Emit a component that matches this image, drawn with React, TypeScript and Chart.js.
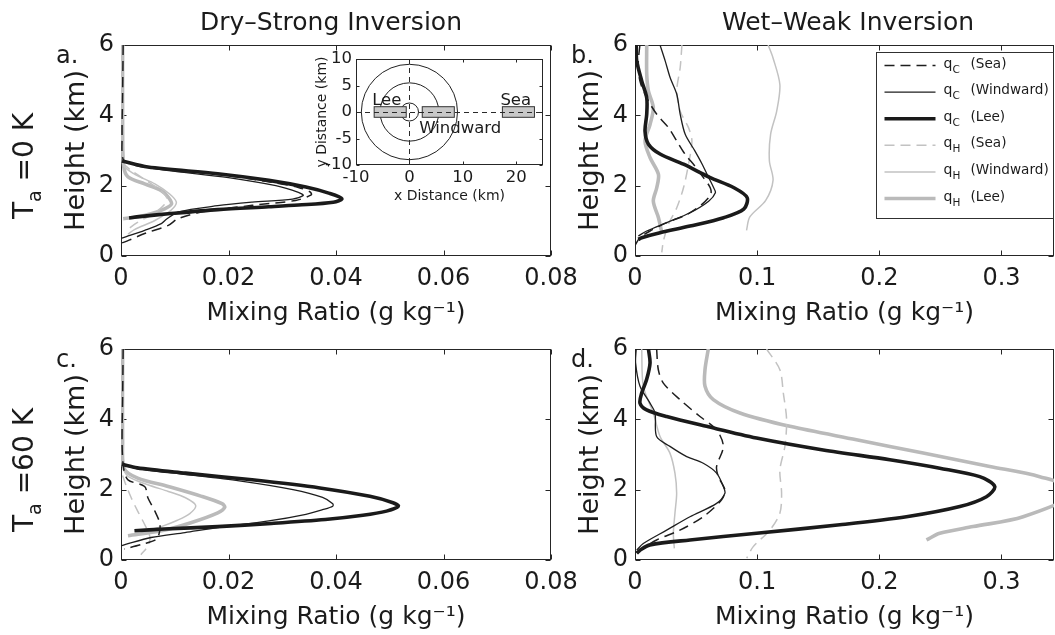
import React, { useEffect, useRef } from 'react';
import { Chart, registerables } from 'chart.js';

Chart.register(...registerables);

const PAGE_W = 1055;
const PAGE_H = 635;
const FONT = '"DejaVu Sans", "Noto Sans", sans-serif';
const INK = '#1b1b1b';
const FRAME = '#262626';

// ---------- axis ticks ----------
const DRY_X_MAX = 0.08;
const WET_X_MAX = 0.343;
const HEIGHT_MAX = 6;
const DRY_X_TICKS = [0, 0.02, 0.04, 0.06, 0.08];
const DRY_X_LABELS = ['0', '0.02', '0.04', '0.06', '0.08'];
const WET_X_TICKS = [0, 0.1, 0.2, 0.3];
const WET_X_LABELS = ['0', '0.1', '0.2', '0.3'];
const HEIGHT_TICKS = [0, 2, 4, 6];
const HEIGHT_LABELS = ['0', '2', '4', '6'];
const MAP_X_TICKS = [-10, 0, 10, 20];
const MAP_X_LABELS = ['-10', '0', '10', '20'];
const MAP_Y_TICKS = [-10, -5, 0, 5, 10];
const MAP_Y_LABELS = ['-10', '-5', '0', '5', '10'];

// ---------- legend text ----------
const SERIES_SYMBOL = ['q', 'q', 'q', 'q', 'q', 'q'];
const SERIES_PHASE = ['C', 'C', 'C', 'H', 'H', 'H'];
const SERIES_SITE = ['(Sea)', '(Windward)', '(Lee)', '(Sea)', '(Windward)', '(Lee)'];

// ---------- inset map ----------
const RING_RADII_KM = [1.7, 5.5, 9];
const SITE_NAMES = ['Lee', 'Windward', 'Sea'];
const SITE_X_START_KM = [-6.6, 2.4, 17.4];
const SITE_X_END_KM = [-0.6, 8.4, 23.4];
const SITE_HALF_WIDTH_KM = 1;
const SITE_LABEL_SIDE = ['above', 'below', 'above'];

// ---------- profiles: [mixing ratio (g/kg), height (km)] ----------
type Pair = [number, number];

// a. Dry-Strong, Ta = 0 K
const A_QC_SEA: Pair[] = [[0.0004, 6], [0.0003, 4.6], [0.0002, 3.4], [0.0005, 2.72], [0.006, 2.5], [0.019, 2.3], [0.028, 2.1], [0.033, 1.95], [0.0352, 1.82], [0.0354, 1.74], [0.0325, 1.58], [0.0244, 1.44], [0.015, 1.25], [0.0106, 1.06], [0.0088, 0.87], [0.0044, 0.64], [0.0015, 0.45], [0, 0.36]];
const A_QC_WIND: Pair[] = [[0.0002, 2.7], [0.0069, 2.47], [0.02, 2.23], [0.0288, 2.0], [0.033, 1.81], [0.0339, 1.72], [0.0319, 1.62], [0.0244, 1.53], [0.018, 1.43], [0.0106, 1.25], [0.0085, 1.05], [0.0075, 0.92], [0.0044, 0.73], [0.001, 0.55], [0, 0.5]];
const A_QC_LEE: Pair[] = [[0.0002, 2.7], [0.005, 2.53], [0.018, 2.34], [0.0275, 2.15], [0.0344, 1.96], [0.0388, 1.78], [0.0411, 1.63], [0.0395, 1.53], [0.033, 1.45], [0.0275, 1.4], [0.018, 1.32], [0.0088, 1.2], [0.0035, 1.12], [0.0015, 1.08]];
const A_QH_SEA: Pair[] = [[0.0002, 2.65], [0.002, 2.42], [0.005, 2.12], [0.0075, 1.85], [0.0085, 1.65], [0.008, 1.45], [0.006, 1.2], [0.003, 0.95], [0.0012, 0.75]];
const A_QH_WIND: Pair[] = [[0.0002, 6], [0.0002, 3.6], [0.0004, 2.6], [0.0025, 2.33], [0.0063, 2.05], [0.009, 1.77], [0.0103, 1.53], [0.0093, 1.3], [0.0063, 1.01], [0.0025, 0.75], [0.0013, 0.62]];
const A_QH_LEE: Pair[] = [[0.0003, 6], [0.0003, 3.6], [0.0005, 2.55], [0.0013, 2.25], [0.0044, 2.05], [0.0075, 1.86], [0.0088, 1.67], [0.0094, 1.48], [0.0081, 1.34], [0.0056, 1.2], [0.0025, 1.1], [0.0004, 1.06]];

// b. Wet-Weak, Ta = 0 K
const B_QC_SEA: Pair[] = [[0.004, 6], [0.0027, 5.5], [0.004, 4.98], [0.0096, 4.5], [0.0178, 4.03], [0.0274, 3.65], [0.0342, 3.27], [0.0411, 2.89], [0.049, 2.56], [0.056, 2.23], [0.0616, 1.94], [0.062, 1.75], [0.0548, 1.47], [0.0425, 1.18], [0.026, 0.95], [0.0123, 0.71], [0.004, 0.52], [0, 0.3]];
const B_QC_WIND: Pair[] = [[0.0205, 6], [0.0247, 5.55], [0.0288, 5.07], [0.0342, 4.6], [0.037, 4.03], [0.0411, 3.46], [0.049, 2.99], [0.055, 2.61], [0.0603, 2.23], [0.0644, 1.94], [0.0658, 1.8], [0.0603, 1.56], [0.045, 1.23], [0.026, 0.95], [0.0096, 0.71], [0.0027, 0.57]];
const B_QC_LEE: Pair[] = [[0.001, 6], [0.0014, 5.55], [0.0055, 4.98], [0.0096, 4.5], [0.0096, 4.03], [0.0082, 3.55], [0.011, 3.18], [0.0205, 2.9], [0.0397, 2.61], [0.0616, 2.23], [0.081, 1.94], [0.0918, 1.66], [0.089, 1.33], [0.0726, 1.09], [0.045, 0.85], [0.0205, 0.66], [0.0055, 0.52], [0.0027, 0.47]];
const B_QH_SEA: Pair[] = [[0.0384, 6], [0.037, 5.36], [0.0342, 4.69], [0.037, 4.12], [0.0438, 3.65], [0.0466, 3.27], [0.0438, 2.61], [0.0397, 1.94], [0.0342, 1.37], [0.0274, 0.9], [0.0233, 0.43], [0.0219, 0.1]];
const B_QH_WIND: Pair[] = [[0.109, 6], [0.113, 5.63], [0.1186, 4.87], [0.116, 4.12], [0.111, 3.46], [0.11, 2.71], [0.113, 2.15], [0.107, 1.58], [0.094, 1.11], [0.0913, 0.73]];
const B_QH_LEE: Pair[] = [[0.0096, 6], [0.0096, 5.17], [0.011, 4.69], [0.015, 4.22], [0.0123, 3.74], [0.0082, 3.27], [0.0123, 2.8], [0.0192, 2.32], [0.0178, 1.94], [0.015, 1.56], [0.0192, 1.09], [0.022, 0.66]];

// c. Dry-Strong, Ta = 60 K
const C_QC_SEA: Pair[] = [[0.0004, 6], [0.0003, 4.6], [0.0002, 3.3], [0.0005, 2.6], [0.0013, 2.28], [0.0044, 2.09], [0.005, 1.77], [0.0063, 1.39], [0.0072, 1.06], [0.0072, 0.83], [0.0066, 0.59], [0.004, 0.45], [0.0006, 0.31]];
const C_QC_WIND: Pair[] = [[0.0002, 2.7], [0.003, 2.6], [0.011, 2.45], [0.022, 2.25], [0.032, 2.0], [0.0375, 1.78], [0.0394, 1.6], [0.0394, 1.53], [0.0375, 1.43], [0.0344, 1.3], [0.0275, 1.11], [0.018, 0.92], [0.0119, 0.78], [0.0056, 0.64], [0.001, 0.45], [0, 0.4]];
const C_QC_LEE: Pair[] = [[0.0002, 2.72], [0.003, 2.62], [0.012, 2.47], [0.0244, 2.28], [0.037, 2.05], [0.0463, 1.81], [0.0506, 1.63], [0.0516, 1.53], [0.0494, 1.39], [0.045, 1.27], [0.038, 1.15], [0.028, 1.04], [0.018, 0.95], [0.008, 0.88], [0.0025, 0.83]];
const C_QH_SEA: Pair[] = [[0.0003, 2.4], [0.0009, 2.14], [0.0019, 1.77], [0.0031, 1.39], [0.0044, 1.01], [0.0054, 0.64], [0.005, 0.4], [0.0037, 0.15]];
const C_QH_WIND: Pair[] = [[0.0003, 2.6], [0.0013, 2.38], [0.005, 2.14], [0.0088, 1.95], [0.012, 1.77], [0.0139, 1.55], [0.0128, 1.32], [0.0105, 1.13], [0.0075, 0.95], [0.005, 0.85]];
const C_QH_LEE: Pair[] = [[0.0003, 6], [0.0003, 3.4], [0.0006, 2.6], [0.0031, 2.33], [0.0088, 2.09], [0.015, 1.81], [0.0188, 1.6], [0.0193, 1.5], [0.018, 1.34], [0.013, 1.06], [0.0075, 0.83], [0.0013, 0.69]];

// d. Wet-Weak, Ta = 60 K
const D_QC_SEA: Pair[] = [[0.0177, 6], [0.0191, 5.41], [0.0232, 5.03], [0.0368, 4.56], [0.0532, 4.08], [0.0668, 3.7], [0.0723, 3.23], [0.0668, 2.66], [0.0682, 2.37], [0.0736, 1.99], [0.0709, 1.71], [0.0559, 1.23], [0.0368, 0.85], [0.0177, 0.57], [0.0041, 0.28], [0.0014, 0.19]];
const D_QC_WIND: Pair[] = [[0.001, 6], [0.0005, 5.6], [0.0041, 4.94], [0.0123, 4.46], [0.0164, 4.18], [0.0177, 3.51], [0.0286, 3.23], [0.0423, 2.94], [0.0559, 2.75], [0.0668, 2.47], [0.0723, 2.09], [0.0736, 1.9], [0.0668, 1.61], [0.045, 1.23], [0.0259, 0.85], [0.0068, 0.47], [0.0014, 0.28]];
const D_QC_LEE: Pair[] = [[0.011, 6], [0.0123, 5.6], [0.0095, 5.13], [0.0055, 4.75], [0.0041, 4.46], [0.0095, 4.27], [0.0259, 4.08], [0.0586, 3.8], [0.0995, 3.47], [0.154, 3.13], [0.2086, 2.85], [0.2495, 2.61], [0.2822, 2.37], [0.2945, 2.09], [0.2877, 1.8], [0.2659, 1.52], [0.2222, 1.23], [0.1677, 1.0], [0.0995, 0.76], [0.045, 0.57], [0.0123, 0.43], [0.0041, 0.28], [0.0014, 0.19]];
const D_QH_SEA: Pair[] = [[0.1077, 6], [0.1186, 5.41], [0.1214, 4.75], [0.1241, 3.99], [0.1227, 3.23], [0.1186, 2.56], [0.12, 1.9], [0.1186, 1.33], [0.1104, 0.85], [0.0968, 0.38], [0.0914, 0.05]];
const D_QH_WIND: Pair[] = [[0.0055, 6], [0.0068, 4.94], [0.015, 4.18], [0.0205, 3.51], [0.0286, 3.04], [0.0327, 2.47], [0.0341, 1.9], [0.0327, 1.33], [0.0314, 0.76], [0.0322, 0.33]];
const D_QH_LEE: Pair[] = [[0.06, 6], [0.0573, 5.41], [0.0573, 4.94], [0.0641, 4.56], [0.0859, 4.18], [0.1268, 3.8], [0.1813, 3.42], [0.2359, 3.04], [0.2904, 2.66], [0.3313, 2.37], [0.362, 1.95], [0.3177, 1.23], [0.2768, 0.95], [0.2495, 0.76], [0.2386, 0.57]];

// ---------- styles ----------
const SERIES_STYLE = [
  { color: '#1e1e1e', width: 1.5, dash: [10, 6] },
  { color: '#1e1e1e', width: 1.3, dash: [] as number[] },
  { color: '#1a1a1a', width: 3.6, dash: [] as number[] },
  { color: '#c2c2c2', width: 1.5, dash: [10, 6] },
  { color: '#c2c2c2', width: 1.5, dash: [] as number[] },
  { color: '#bababa', width: 3.6, dash: [] as number[] },
];

type Run = { text: string; size: number; dy: number };

function drawRuns(ctx: CanvasRenderingContext2D, runs: Run[], x: number, y: number, align: 'left' | 'center') {
  ctx.textAlign = 'left';
  ctx.textBaseline = 'alphabetic';
  const widths = runs.map((r) => {
    ctx.font = `${r.size}px ${FONT}`;
    return ctx.measureText(r.text).width;
  });
  const total = widths.reduce((s, w) => s + w, 0);
  let cx = align === 'center' ? x - total / 2 : x;
  runs.forEach((r, i) => {
    ctx.font = `${r.size}px ${FONT}`;
    ctx.fillText(r.text, cx, y + r.dy);
    cx += widths[i];
  });
}

function framePlugin(tickLen: number) {
  return {
    id: 'frameBox',
    beforeDatasetsDraw(chart: any) {
      const { ctx, chartArea: a, scales } = chart;
      const xs = scales.x;
      const ys = scales.y;
      const l = Math.round(a.left) + 0.5;
      const r = Math.round(a.right) - 0.5;
      const t = Math.round(a.top) + 0.5;
      const b = Math.round(a.bottom) - 0.5;
      ctx.save();
      ctx.strokeStyle = FRAME;
      ctx.lineWidth = 1;
      ctx.setLineDash([]);
      ctx.strokeRect(l, t, r - l, b - t);
      ctx.beginPath();
      xs.ticks.forEach((tk: any) => {
        const px = Math.round(xs.getPixelForValue(tk.value)) + 0.5;
        ctx.moveTo(px, b);
        ctx.lineTo(px, b - tickLen);
        ctx.moveTo(px, t);
        ctx.lineTo(px, t + tickLen);
      });
      ys.ticks.forEach((tk: any) => {
        const py = Math.round(ys.getPixelForValue(tk.value)) + 0.5;
        ctx.moveTo(l, py);
        ctx.lineTo(l + tickLen, py);
        ctx.moveTo(r, py);
        ctx.lineTo(r - tickLen, py);
      });
      ctx.stroke();
      ctx.restore();
    },
  };
}

function fixedTicks(values: number[]) {
  return (axis: any) => {
    axis.ticks = values.map((v) => ({ value: v }));
  };
}

type PanelSpec = {
  area: [number, number, number, number];
  xMax: number;
  xTicks: number[];
  xLabels: string[];
  series: Pair[][];
  annotate: (ctx: CanvasRenderingContext2D, chart: any) => void;
};

const MAIN_Y_AXIS_W = 60;
const MAIN_X_AXIS_H = 72;

function buildPanel(canvas: HTMLCanvasElement, p: PanelSpec) {
  const [L, T, R, B] = p.area;
  const datasets = p.series.map((pts, i) => ({
    data: pts.map(([v, h]) => ({ x: v, y: h })),
    showLine: true,
    pointRadius: 0,
    pointHoverRadius: 0,
    borderColor: SERIES_STYLE[i].color,
    borderWidth: SERIES_STYLE[i].width,
    borderDash: SERIES_STYLE[i].dash,
    borderCapStyle: 'butt',
    borderJoinStyle: 'round',
    tension: 0.3,
    fill: false,
  }));
  return new Chart(canvas, {
    type: 'scatter',
    data: { datasets } as any,
    options: {
      responsive: false,
      animation: false,
      devicePixelRatio: 1,
      events: [],
      layout: {
        padding: { left: L - MAIN_Y_AXIS_W, top: T, right: PAGE_W - R, bottom: PAGE_H - B - MAIN_X_AXIS_H },
      },
      plugins: { legend: { display: false }, tooltip: { enabled: false } },
      scales: {
        x: {
          type: 'linear',
          position: 'bottom',
          min: 0,
          max: p.xMax,
          afterBuildTicks: fixedTicks(p.xTicks),
          afterFit: (s: any) => {
            s.height = MAIN_X_AXIS_H;
          },
          grid: { display: false, drawTicks: false },
          border: { display: false },
          ticks: {
            autoSkip: false,
            maxRotation: 0,
            padding: 8,
            color: INK,
            font: { family: FONT, size: 24 },
            callback: (_v: any, i: number) => p.xLabels[i],
          },
          title: {
            display: true,
            text: 'Mixing Ratio (g kg⁻¹)',
            color: INK,
            font: { family: FONT, size: 25 },
            padding: { top: 0, bottom: 0 },
          },
        },
        y: {
          type: 'linear',
          position: 'left',
          min: 0,
          max: HEIGHT_MAX,
          afterBuildTicks: fixedTicks(HEIGHT_TICKS),
          afterFit: (s: any) => {
            s.width = MAIN_Y_AXIS_W;
          },
          grid: { display: false, drawTicks: false },
          border: { display: false },
          ticks: {
            autoSkip: false,
            padding: 7,
            color: INK,
            font: { family: FONT, size: 24 },
            callback: (_v: any, i: number) => HEIGHT_LABELS[i],
          },
          title: {
            display: true,
            text: 'Height (km)',
            color: INK,
            font: { family: FONT, size: 27 },
            padding: { top: 0, bottom: 0 },
          },
        },
      },
    } as any,
    plugins: [
      framePlugin(5),
      {
        id: 'annotate',
        afterDraw(chart: any) {
          const ctx = chart.ctx as CanvasRenderingContext2D;
          ctx.save();
          ctx.fillStyle = INK;
          p.annotate(ctx, chart);
          ctx.restore();
        },
      },
    ] as any,
  });
}

function drawRowLabel(ctx: CanvasRenderingContext2D, value: string, x: number, y: number) {
  ctx.save();
  ctx.translate(x, y);
  ctx.rotate(-Math.PI / 2);
  drawRuns(
    ctx,
    [
      { text: 'T', size: 28, dy: 0 },
      { text: 'a', size: 19, dy: 8 },
      { text: value, size: 28, dy: 0 },
    ],
    0,
    0,
    'center'
  );
  ctx.restore();
}

function drawLegend(ctx: CanvasRenderingContext2D, chart: any) {
  const a = chart.chartArea;
  const boxW = 177;
  const boxH = 166;
  const boxL = Math.round(a.right) - boxW - 1 + 0.5;
  const boxT = Math.round(a.top) + 7 + 0.5;
  ctx.fillStyle = '#ffffff';
  ctx.fillRect(boxL, boxT, boxW, boxH);
  ctx.strokeStyle = '#303030';
  ctx.lineWidth = 1;
  ctx.setLineDash([]);
  ctx.strokeRect(boxL, boxT, boxW, boxH);
  const rowGap = 26.6;
  chart.data.datasets.forEach((ds: any, i: number) => {
    const yy = boxT + 13 + i * rowGap;
    ctx.beginPath();
    ctx.strokeStyle = ds.borderColor;
    ctx.lineWidth = ds.borderWidth;
    ctx.setLineDash(ds.borderDash || []);
    ctx.moveTo(boxL + 8, yy);
    ctx.lineTo(boxL + 59, yy);
    ctx.stroke();
    ctx.setLineDash([]);
    ctx.fillStyle = INK;
    drawRuns(ctx, [{ text: SERIES_SYMBOL[i], size: 14, dy: 0 }], boxL + 67, yy + 2, 'left');
    drawRuns(ctx, [{ text: SERIES_PHASE[i], size: 10.5, dy: 0 }], boxL + 76, yy + 7, 'left');
    drawRuns(ctx, [{ text: SERIES_SITE[i], size: 13.6, dy: 0 }], boxL + 94, yy + 2, 'left');
  });
}

const PANELS: PanelSpec[] = [
  {
    area: [121, 45, 551, 256],
    xMax: DRY_X_MAX,
    xTicks: DRY_X_TICKS,
    xLabels: DRY_X_LABELS,
    series: [A_QC_SEA, A_QC_WIND, A_QC_LEE, A_QH_SEA, A_QH_WIND, A_QH_LEE],
    annotate: (ctx) => {
      drawRuns(ctx, [{ text: 'Dry–Strong Inversion', size: 25, dy: 0 }], 331, 30, 'center');
      drawRuns(ctx, [{ text: 'a.', size: 24, dy: 0 }], 56, 63, 'left');
      drawRowLabel(ctx, ' =0 K', 33, 166);
    },
  },
  {
    area: [635, 45, 1054, 256],
    xMax: WET_X_MAX,
    xTicks: WET_X_TICKS,
    xLabels: WET_X_LABELS,
    series: [B_QC_SEA, B_QC_WIND, B_QC_LEE, B_QH_SEA, B_QH_WIND, B_QH_LEE],
    annotate: (ctx, chart) => {
      drawRuns(ctx, [{ text: 'Wet–Weak Inversion', size: 25, dy: 0 }], 848, 30, 'center');
      drawRuns(ctx, [{ text: 'b.', size: 24, dy: 0 }], 571, 63, 'left');
      drawLegend(ctx, chart);
    },
  },
  {
    area: [121, 349, 551, 560],
    xMax: DRY_X_MAX,
    xTicks: DRY_X_TICKS,
    xLabels: DRY_X_LABELS,
    series: [C_QC_SEA, C_QC_WIND, C_QC_LEE, C_QH_SEA, C_QH_WIND, C_QH_LEE],
    annotate: (ctx) => {
      drawRuns(ctx, [{ text: 'c.', size: 24, dy: 0 }], 56, 367, 'left');
      drawRowLabel(ctx, ' =60 K', 33, 470);
    },
  },
  {
    area: [635, 349, 1054, 560],
    xMax: WET_X_MAX,
    xTicks: WET_X_TICKS,
    xLabels: WET_X_LABELS,
    series: [D_QC_SEA, D_QC_WIND, D_QC_LEE, D_QH_SEA, D_QH_WIND, D_QH_LEE],
    annotate: (ctx) => {
      drawRuns(ctx, [{ text: 'd.', size: 24, dy: 0 }], 571, 367, 'left');
    },
  },
];

// inset map layout
const MAP_AREA: [number, number, number, number] = [356, 59, 543, 165];
const MAP_Y_AXIS_W = 42;
const MAP_X_AXIS_H = 40;

function buildMap(canvas: HTMLCanvasElement) {
  const [L, T, R, B] = MAP_AREA;
  const mapPlugin = {
    id: 'mapContent',
    beforeDatasetsDraw(chart: any) {
      const { ctx, chartArea: a, scales } = chart;
      const xs = scales.x;
      const ys = scales.y;
      ctx.save();
      ctx.fillStyle = '#ffffff';
      ctx.fillRect(a.left, a.top, a.right - a.left, a.bottom - a.top);
      ctx.beginPath();
      ctx.rect(a.left, a.top, a.right - a.left, a.bottom - a.top);
      ctx.clip();
      const cx = xs.getPixelForValue(0);
      const cy = ys.getPixelForValue(0);
      // rings
      ctx.strokeStyle = '#222';
      ctx.lineWidth = 1;
      RING_RADII_KM.forEach((r) => {
        const rx = xs.getPixelForValue(r) - cx;
        const ry = cy - ys.getPixelForValue(r);
        ctx.beginPath();
        ctx.ellipse(cx, cy, rx, ry, 0, 0, Math.PI * 2);
        ctx.stroke();
      });
      // sampling regions
      SITE_NAMES.forEach((_n, i) => {
        const x0 = xs.getPixelForValue(SITE_X_START_KM[i]);
        const x1 = xs.getPixelForValue(SITE_X_END_KM[i]);
        const y0 = ys.getPixelForValue(SITE_HALF_WIDTH_KM);
        const y1 = ys.getPixelForValue(-SITE_HALF_WIDTH_KM);
        ctx.fillStyle = '#c9c9c9';
        ctx.fillRect(x0, y0, x1 - x0, y1 - y0);
        ctx.strokeStyle = '#333';
        ctx.strokeRect(x0, y0, x1 - x0, y1 - y0);
      });
      // dashed centre lines
      ctx.strokeStyle = '#2a2a2a';
      ctx.setLineDash([5, 4]);
      ctx.beginPath();
      ctx.moveTo(a.left, Math.round(cy) + 0.5);
      ctx.lineTo(a.right, Math.round(cy) + 0.5);
      ctx.moveTo(Math.round(cx) + 0.5, a.top);
      ctx.lineTo(Math.round(cx) + 0.5, a.bottom);
      ctx.stroke();
      ctx.setLineDash([]);
      // labels
      ctx.fillStyle = INK;
      SITE_NAMES.forEach((name, i) => {
        const x0 = xs.getPixelForValue(SITE_X_START_KM[i]);
        if (SITE_LABEL_SIDE[i] === 'above') {
          const yTop = ys.getPixelForValue(SITE_HALF_WIDTH_KM);
          drawRuns(ctx, [{ text: name, size: 16.5, dy: 0 }], x0 - 2, yTop - 2, 'left');
        } else {
          const yBot = ys.getPixelForValue(-SITE_HALF_WIDTH_KM);
          drawRuns(ctx, [{ text: name, size: 16.5, dy: 0 }], x0 - 3, yBot + 16, 'left');
        }
      });
      ctx.restore();
    },
  };
  return new Chart(canvas, {
    type: 'scatter',
    data: { datasets: [] },
    options: {
      responsive: false,
      animation: false,
      devicePixelRatio: 1,
      events: [],
      layout: {
        padding: { left: L - MAP_Y_AXIS_W, top: T, right: PAGE_W - R, bottom: PAGE_H - B - MAP_X_AXIS_H },
      },
      plugins: { legend: { display: false }, tooltip: { enabled: false } },
      scales: {
        x: {
          type: 'linear',
          position: 'bottom',
          min: -10,
          max: 25,
          afterBuildTicks: fixedTicks(MAP_X_TICKS),
          afterFit: (s: any) => {
            s.height = MAP_X_AXIS_H;
          },
          grid: { display: false, drawTicks: false },
          border: { display: false },
          ticks: {
            autoSkip: false,
            maxRotation: 0,
            padding: 3,
            color: INK,
            font: { family: FONT, size: 16.5 },
            callback: (_v: any, i: number) => MAP_X_LABELS[i],
          },
          title: {
            display: true,
            text: 'x Distance (km)',
            color: INK,
            font: { family: FONT, size: 14 },
            padding: { top: 0, bottom: 0 },
          },
        },
        y: {
          type: 'linear',
          position: 'left',
          min: -10,
          max: 10,
          afterBuildTicks: fixedTicks(MAP_Y_TICKS),
          afterFit: (s: any) => {
            s.width = MAP_Y_AXIS_W;
          },
          grid: { display: false, drawTicks: false },
          border: { display: false },
          ticks: {
            autoSkip: false,
            padding: 4,
            color: INK,
            font: { family: FONT, size: 16.5 },
            callback: (_v: any, i: number) => MAP_Y_LABELS[i],
          },
          title: {
            display: true,
            text: 'y Distance (km)',
            color: INK,
            font: { family: FONT, size: 14 },
            padding: { top: 0, bottom: 0 },
          },
        },
      },
    } as any,
    plugins: [mapPlugin, framePlugin(3)] as any,
  });
}

function Layer({ build }: { build: (c: HTMLCanvasElement) => Chart }) {
  const ref = useRef<HTMLCanvasElement>(null);
  useEffect(() => {
    const chart = build(ref.current as HTMLCanvasElement);
    return () => chart.destroy();
  }, []);
  return (
    <canvas
      ref={ref}
      width={PAGE_W}
      height={PAGE_H}
      style={{ position: 'absolute', left: 0, top: 0, width: PAGE_W, height: PAGE_H }}
    />
  );
}

export default function App() {
  return (
    <div style={{ position: 'absolute', left: 0, top: 0, width: PAGE_W, height: PAGE_H, background: '#ffffff', overflow: 'hidden' }}>
      <Layer build={(c) => buildPanel(c, PANELS[0])} />
      <Layer build={(c) => buildMap(c)} />
      <Layer build={(c) => buildPanel(c, PANELS[1])} />
      <Layer build={(c) => buildPanel(c, PANELS[2])} />
      <Layer build={(c) => buildPanel(c, PANELS[3])} />
    </div>
  );
}
